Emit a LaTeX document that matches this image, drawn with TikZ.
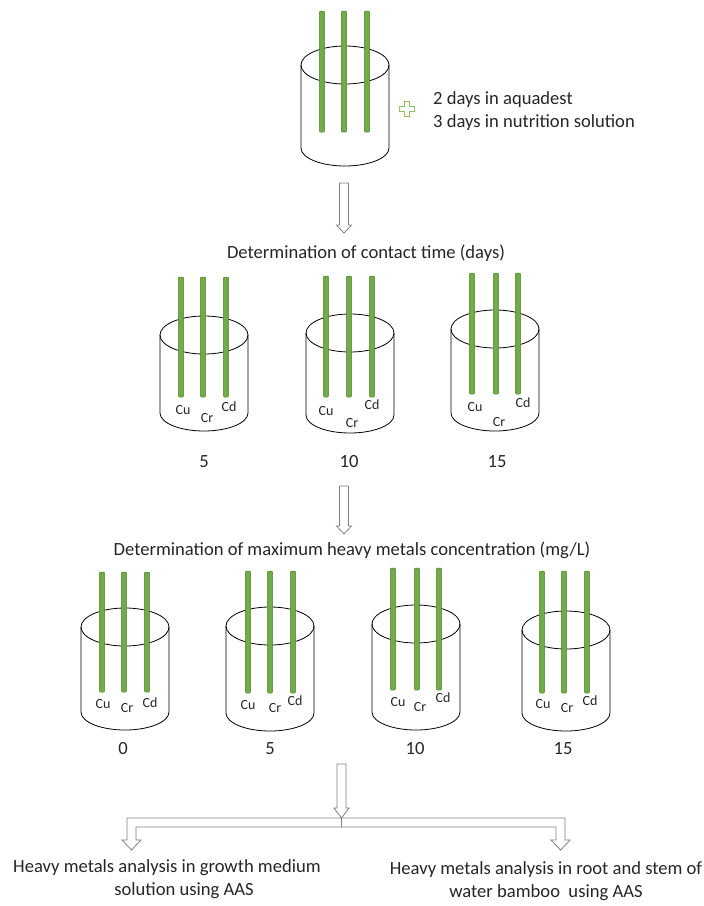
\documentclass[tikz,border=0pt]{standalone}
\usepackage{fontspec}
\setmainfont{Carlito}
\usetikzlibrary{calc}
\definecolor{ink}{HTML}{262626}
\definecolor{leaf}{HTML}{70AD47}
\definecolor{leafdk}{HTML}{507E32}
\definecolor{pluscol}{HTML}{8CC168}
\definecolor{arrgray}{HTML}{7F7F7F}
\tikzset{
  cup/.style={draw=black, line width=0.8pt},
  rod/.style={draw=leafdk, fill=leaf, line width=0.5pt, rounded corners=1pt},
  blk/.style={draw=arrgray, fill=white, line width=0.8pt, line join=miter},
  lab/.style={text=ink, font=\fontsize{18.6}{22.5}\selectfont, inner sep=0pt},
  labs/.style={text=ink, font=\fontsize{14}{16}\selectfont, inner sep=0pt},
}
% jar: centre x, y of the top rim, y where the walls end
\newcommand\jar[3]{%
  \draw[cup] (#1,#2) ellipse [x radius=44, y radius=19];
  \draw[cup] (#1-44,#2) -- (#1-44,#3)
    arc[start angle=180, end angle=0, x radius=44, y radius=18] -- (#1+44,#2);
}
% three stems: x list, top, bottom
\newcommand\stems[3]{%
  \foreach \sx in {#1} \draw[rod] (\sx-2.6,#2) rectangle (\sx+2.6,#3);
}
% Cu / Cr / Cd tags under the stems
\newcommand\metals[4]{%
  \node[labs] (cu#1) at (#2) {Cu};
  \node[labs] (cr#1) at (#3) {Cr};
  \node[labs] (cd#1) at (#4) {Cd};
}
% hollow block arrow from one named point down to another
\newcommand\hollowarrow[3][8]{%
  \draw[blk] ($(#2)+(-4.5,0)$) -- ($(#2)+(4.5,0)$) -- ($(#3)+(4.5,-#1)$)
    -- ($(#3)+(7.5,-#1)$) -- (#3) -- ($(#3)+(-7.5,-#1)$)
    -- ($(#3)+(-4.5,-#1)$) -- cycle;
}

\begin{document}
\begin{tikzpicture}[x=1pt, y=-1pt]
  \useasboundingbox (0,0) rectangle (704,906);

  % acclimatisation
  \jar{345}{65}{148}
  \stems{322,344,367}{11}{132}
  \draw[draw=pluscol, fill=white, line width=0.7pt]
    (404.5,101) -- (409.5,101) -- (409.5,106) -- (414.5,106) -- (414.5,111)
    -- (409.5,111) -- (409.5,116) -- (404.5,116) -- (404.5,111) -- (399.5,111)
    -- (399.5,106) -- (404.5,106) -- cycle;
  \node[lab, anchor=west, align=left] (prep) at (433,111)
    {2 days in aquadest\\3 days in nutrition solution};

  \coordinate (a1s) at (344,183);
  \coordinate (a1e) at (344,233);
  \hollowarrow{a1s}{a1e}
  \node[lab] (time) at (366,253) {Determination of contact time (days)};

  % contact time
  \jar{204}{335}{413}
  \stems{181,203,226}{277}{397}
  \metals{t1}{183,410}{207,418}{229,407}
  \node[lab] (d5) at (204,462) {5};

  \jar{350}{333}{415}
  \stems{326,349,372}{276}{397}
  \metals{t2}{326,411}{352,423}{372,405}
  \node[lab] (d10) at (349,462) {10};

  \jar{495}{329}{413}
  \stems{472,496,518}{273}{394}
  \metals{t3}{475,407}{499,422}{523,403}
  \node[lab] (d15) at (497,462) {15};

  \coordinate (a2s) at (344,486);
  \coordinate (a2e) at (344,534);
  \hollowarrow{a2s}{a2e}
  \node[lab] (conc) at (352,550)
    {Determination of maximum heavy metals concentration (mg/L)};

  % concentration
  \jar{125}{627}{712}
  \stems{102,124,147}{572}{692}
  \metals{c1}{103,704}{127,708}{150,703}
  \node[lab] (m0) at (123,749) {0};

  \jar{270}{626}{713}
  \stems{248,270,293}{571}{693}
  \metals{c2}{248,705}{275,708}{295,701}
  \node[lab] (m5) at (270,749) {5};

  \jar{416}{624}{712}
  \stems{393,417,439}{568}{690}
  \metals{c3}{398,702}{420,707}{443,698}
  \node[lab] (m10) at (415,749) {10};

  \jar{566}{630}{713}
  \stems{542,564,587}{571}{693}
  \metals{c4}{543,704}{567,708}{590,701}
  \node[lab] (m15) at (563,749) {15};

  % split to the two analyses
  \coordinate (a3s) at (341.5,764);
  \coordinate (split) at (341.5,818);
  \hollowarrow[10]{a3s}{split}
  \draw[blk] (split) -- (127,818) -- (127,840) -- (122,840) -- (131.5,850)
    -- (141,840) -- (136,840) -- (136,827) -- (341.5,827) -- cycle;
  \draw[blk] (split) -- (565,818) -- (565,840) -- (570,840) -- (560.5,850)
    -- (551,840) -- (556,840) -- (556,827) -- (341.5,827) -- cycle;

  \node[lab, align=center] (medium) at (167,879)
    {Heavy metals analysis in growth medium\\\hspace*{34pt}solution using AAS};
  \node[lab, align=center] (plant) at (546,881)
    {Heavy metals analysis in root and stem of\\water bamboo\ \ using AAS};
\end{tikzpicture}
\end{document}
